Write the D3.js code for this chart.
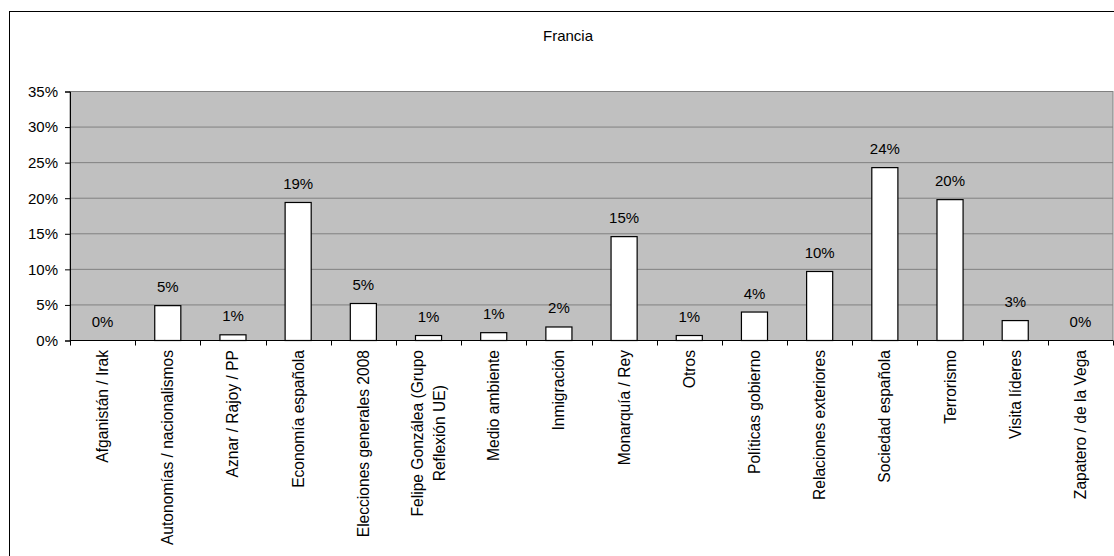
<!DOCTYPE html>
<html>
<head>
<meta charset="utf-8">
<script src="https://cdn.jsdelivr.net/npm/d3@7"></script>
<style>
  html, body { margin: 0; padding: 0; background: #fff; }
  svg { display: block; }
  text { font-family: "Liberation Sans", Arial, sans-serif; fill: #000; }
</style>
</head>
<body>
<script>
const title = "Francia";
const categories = [
  "Afganistán / Irak",
  "Autonomías / nacionalismos",
  "Aznar / Rajoy / PP",
  "Economía española",
  "Elecciones generales 2008",
  "Felipe Gonzálea (Grupo\nReflexión UE)",
  "Medio ambiente",
  "Inmigración",
  "Monarquía / Rey",
  "Otros",
  "Políticas gobierno",
  "Relaciones exteriores",
  "Sociedad española",
  "Terrorismo",
  "Visita líderes",
  "Zapatero / de la Vega"
];
const values = [0, 4.9, 0.8, 19.4, 5.2, 0.7, 1.1, 1.9, 14.6, 0.7, 4.0, 9.7, 24.3, 19.8, 2.8, 0];
const yTicks = [0, 5, 10, 15, 20, 25, 30, 35];

(function () {
const W = 1114, H = 556;
const pL = 70, pR = 1113, pT = 91.5, pB = 340.5;
const fs = 15;
const fsCat = 15.6;

const svg = d3.select("body").append("svg").attr("width", W).attr("height", H);

// outer chart border (extends past the right/bottom edge)
svg.append("rect").attr("x", 9.5).attr("y", 11.5).attr("width", 1300).attr("height", 700)
  .attr("fill", "#fff").attr("stroke", "#000").attr("stroke-width", 1);

// title
svg.append("text").attr("x", 568).attr("y", 41).attr("text-anchor", "middle")
  .style("font-size", fs + "px").text(title);

const y = d3.scaleLinear().domain([0, 35]).range([pB, pT]);
const x = d3.scaleBand().domain(categories).range([pL, pR]).paddingInner(0.6).paddingOuter(0.3);
const xb = d3.scaleBand().domain(categories).range([pL, pR]).padding(0);

// plot area
svg.append("rect").attr("x", pL).attr("y", pT).attr("width", pR - pL).attr("height", pB - pT)
  .attr("fill", "#C0C0C0").attr("stroke", "#808080").attr("stroke-width", 1);

// gridlines
svg.append("g").selectAll("line").data(yTicks.filter(d => d > 0)).join("line")
  .attr("x1", pL).attr("x2", pR)
  .attr("y1", d => y(d)).attr("y2", d => y(d))
  .attr("stroke", "#808080").attr("stroke-width", 1);

// bars
svg.append("g").selectAll("rect").data(values).join("rect")
  .attr("x", (d, i) => x(categories[i]))
  .attr("width", x.bandwidth())
  .attr("y", d => y(d))
  .attr("height", d => y(0) - y(d))
  .attr("fill", "#fff").attr("stroke", "#000").attr("stroke-width", 1.2);

// value labels
svg.append("g").selectAll("text").data(values).join("text")
  .attr("x", (d, i) => x(categories[i]) + x.bandwidth() / 2)
  .attr("y", d => y(d) - 13.5)
  .attr("text-anchor", "middle")
  .style("font-size", fs + "px")
  .text(d => Math.round(d) + "%");

// y axis
const yAxis = svg.append("g").attr("transform", `translate(${pL},0)`)
  .call(d3.axisLeft(y).tickValues(yTicks).tickSize(5).tickPadding(7).tickFormat(d => d + "%"));
yAxis.select(".domain").attr("stroke", "#000");
yAxis.selectAll(".tick line").attr("stroke", "#000");
yAxis.selectAll("text").style("font-size", fs + "px").style("font-family", '"Liberation Sans", Arial, sans-serif');

// x axis line and boundary ticks
svg.append("line").attr("x1", pL).attr("x2", pR).attr("y1", pB).attr("y2", pB)
  .attr("stroke", "#000").attr("stroke-width", 1);
const bounds = categories.map(c => xb(c)).concat([pR]);
svg.append("g").selectAll("line").data(bounds).join("line")
  .attr("x1", d => Math.round(d) + 0.5).attr("x2", d => Math.round(d) + 0.5)
  .attr("y1", pB).attr("y2", pB + 5)
  .attr("stroke", "#000");

// category labels (rotated)
const labelG = svg.append("g");
categories.forEach((c, i) => {
  const cx = xb(c) + xb.bandwidth() / 2;
  const lines = c.split("\n");
  const g = labelG.append("g").attr("transform", `translate(${cx},350) rotate(-90)`);
  const n = lines.length;
  const lh = 23;
  const t1 = g.append("text").attr("x", 0).attr("y", (0 - (n - 1) / 2) * lh)
    .attr("dy", "0.35em").attr("text-anchor", "end")
    .style("font-size", fsCat + "px").text(lines[0]);
  if (n > 1) {
    const len = t1.node().getComputedTextLength();
    for (let k = 1; k < n; k++) {
      g.append("text").attr("x", -len / 2).attr("y", (k - (n - 1) / 2) * lh)
        .attr("dy", "0.35em").attr("text-anchor", "middle")
        .style("font-size", fsCat + "px").text(lines[k]);
    }
  }
});
})();
</script>
</body>
</html>
